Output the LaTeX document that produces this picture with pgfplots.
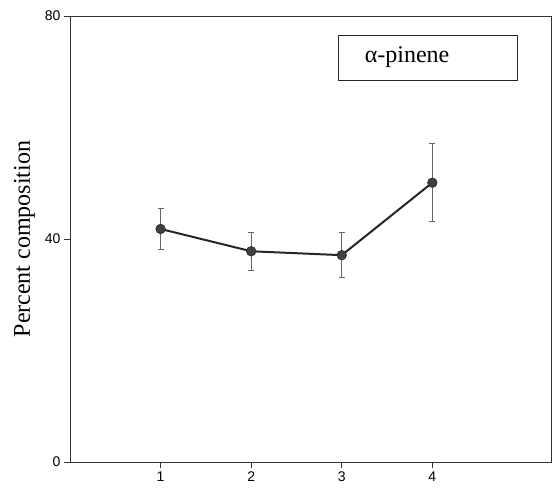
\documentclass[border=0pt]{standalone}
\usepackage{fontspec}
\setmainfont{Liberation Serif}
\newfontfamily\ticksans{Liberation Sans}
\usepackage{pgfplots}
\pgfplotsset{compat=1.18}
\begin{document}
\begin{tikzpicture}
\path[use as bounding box] (-70pt,-26pt) rectangle (487pt,462pt);
\begin{axis}[
  scale only axis,
  width=481pt, height=446pt,
  xmin=0, xmax=5.31,
  ymin=0, ymax=80,
  xtick={1,2,3,4},
  ytick={0,40,80},
  tick align=outside,
  tick pos=left,
  major tick length=6pt,
  tick label style={font=\ticksans\fontsize{14}{14}\selectfont},
  /pgf/number format/assume math mode=true,
  axis line style={line width=0.9pt, black!80},
  tick style={line width=0.8pt, black!80},
  ylabel={Percent composition},
  ylabel style={font=\fontsize{24}{24}\selectfont, yshift=3pt},
]
\addplot[line width=2pt, black!85,
  mark=*, mark size=4.8pt, mark options={fill=black!75, draw=black!85, line width=0.6pt},
  error bars/.cd, y dir=both, y explicit,
  error bar style={line width=0.8pt, black!60},
  error mark options={rotate=90, mark size=3pt, line width=0.8pt, black!60}]
  coordinates {
    (1,41.8) +- (0,3.6)
    (2,37.8) +- (0,3.4)
    (3,37.1) +- (0,4.0)
    (4,50.1) +- (0,7.0)
  };
\node[draw, line width=0.8pt, black!85, text=black, inner xsep=0pt, inner ysep=0pt,
  minimum height=45pt, text width=179pt, align=left,
  font=\fontsize{24}{24}\selectfont] at (rel axis cs:0.745,0.907)
  {\hspace*{26pt}α-pinene};
\end{axis}
\end{tikzpicture}
\end{document}
